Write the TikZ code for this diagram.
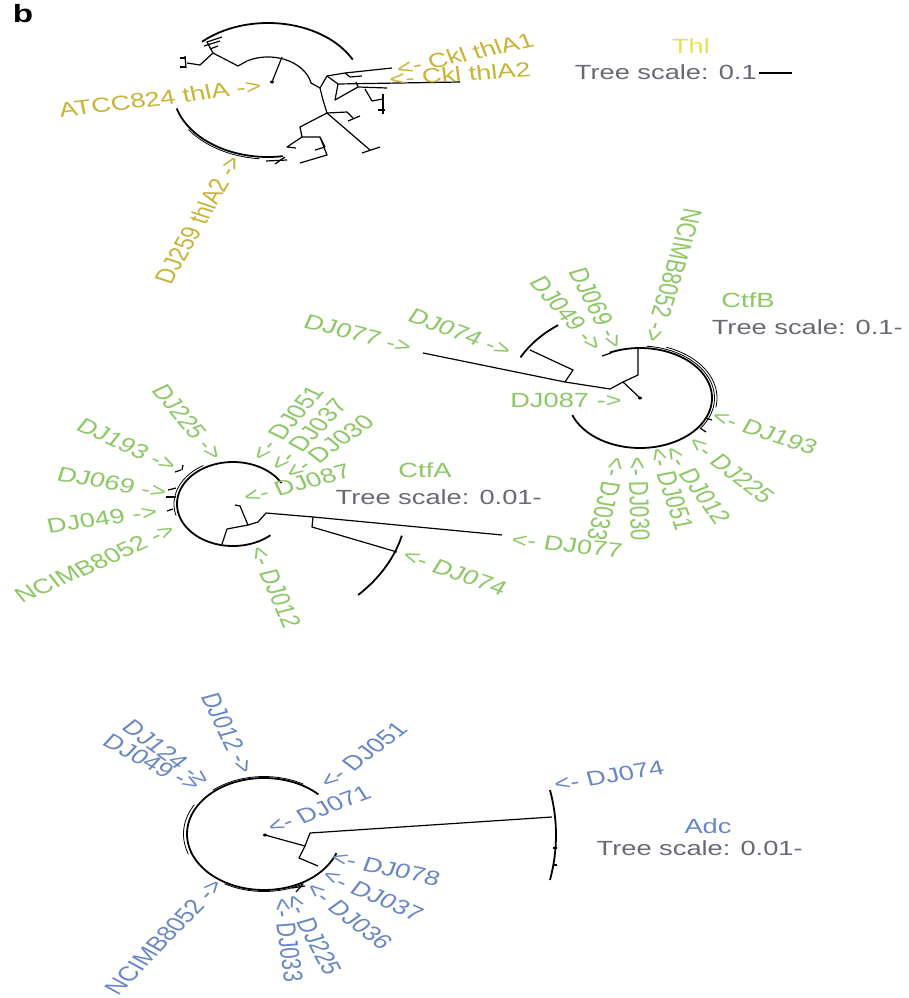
\documentclass[tikz,border=0pt]{standalone}
\usepackage{fontspec}
\setmainfont{Liberation Sans}
\newcommand\labfont{\fontsize{20.5}{24}\selectfont}
\definecolor{thly}{RGB}{200,180,55}
\definecolor{thlt}{RGB}{228,228,80}
\definecolor{ctfg}{RGB}{140,200,100}
\definecolor{adcb}{RGB}{105,135,200}
\definecolor{scg}{RGB}{105,105,115}
\tikzset{
  lab/.style={font=\labfont, inner sep=0pt, transform shape},
  tilt/.style={rotate={atan2(1.33*sin(#1),cos(#1))}},
  br/.style={line width=1.2pt, line join=round},
  rim/.style={line width=1.8pt},
  thin rim/.style={line width=0.8pt},
}
\begin{document}
\begin{tikzpicture}[x=0.75188pt, y=-1pt, xscale=1.33]
\fill[white] (0,0) rectangle (908,998);
\useasboundingbox (0,0) rectangle (908,998);

\node[lab, font=\fontsize{25}{28}\selectfont\bfseries] (panelb) at (23,14) {b};

% ================= Thl tree =================
\draw[rim] plot[domain=27:134,samples=60,smooth] ({268+95*cos(\x)},{90-67*sin(\x)});
\draw[rim] plot[domain=196:279,samples=40,smooth] ({268+95*cos(\x)},{90-67*sin(\x)});
\draw[thin rim] plot[domain=215:265,samples=30,smooth] ({268+97*cos(\x)},{90-69*sin(\x)});
\draw[br] plot[domain=12:118,samples=40,smooth] ({268+44*cos(\x)},{90-33*sin(\x)});
\fill (272,82) circle (1.5pt);
\draw[br] (272,82) -- (282,57);
\draw[br] (247,61) -- (238,66) -- (213,53);
\draw[br] (213,53) -- (207,42) -- (222,37);
\draw[br] (204,46) -- (220,41);
\draw[br] (210,49) -- (218,46);
\draw[br] (213,53) -- (200,65) -- (187,63);
\draw[br] (185,56) -- (186,68);
\draw[br] (180,58) -- (186,58);
\draw[br] (180,67) -- (186,67);
\draw[br] (311,83) -- (320,88) -- (327,76) -- (345,73) -- (392,68);
\draw[br] (327,76) -- (338,84) -- (460,82);
\draw[br] (345,73) -- (350,77) -- (362,76);
\draw[br] (338,84) -- (335,100) -- (358,87) -- (387,88);
\draw[br] (358,87) -- (356,82);
\draw[br] (365,89) -- (372,101) -- (383,99);
\draw[br] (383,94) -- (383,114);
\draw[br] (378,110) -- (385,110);
\draw[br] (320,88) -- (323,100) -- (327,113) -- (370,150);
\draw[br] (362,153) -- (380,147);
\draw[br] (327,113) -- (347,112) -- (353,118);
\draw[br] (348,121) -- (360,116);
\draw[br] (327,113) -- (300,127) -- (302,137) -- (320,137) -- (325,147);
\draw[br] (320,137) -- (327,155) -- (300,163);
\draw[br] (325,147) -- (315,150);
\draw[br] (302,137) -- (287,147) -- (296,148);
\draw[br] (266,161) -- (287,160);
\draw[br] (275,164) -- (285,157);

\node[lab,thly,tilt=7] (atcc) at (160,98) {ATCC824 thlA ->};
\node[lab,thly,tilt=60] (dj259) at (198,220) {DJ259 thlA2 ->};
\node[lab,thly,tilt=12.5] (ckl1) at (465,54) {<- Ckl thlA1};
\node[lab,thly,tilt=4] (ckl2) at (460,74) {<- Ckl thlA2};
\node[lab,thlt] (thl) at (691,46) {Thl};
\node[lab,scg,anchor=east] (ts1) at (757,72) {Tree scale: 0.1};
\draw[line width=2pt] (759,73) -- (792,73);

% ================= CtfB tree =================
\draw[rim] plot[domain=-160:115,samples=80,smooth] ({640+72*cos(\x)},{398-50*sin(\x)});
\draw[thin rim] plot[domain=-35:85,samples=40,smooth] ({640+74.5*cos(\x)},{398-52*sin(\x)});
\draw[thin rim] plot[domain=-10:70,samples=40,smooth] ({640+77*cos(\x)},{398-54*sin(\x)});
\draw[br] (423,353) -- (565,382) -- (610,389) -- (623,382) -- (638,375) -- (638,349);
\draw[br] (623,382) -- (640,398);
\fill (640,398) circle (1.5pt);
\draw[br] (565,382) -- (573,370) -- (530,350);
\draw[rim] plot[domain=128:154,samples=20,smooth] ({640+133*cos(\x)},{398-92.5*sin(\x)});
\draw[br] (602,356) -- (611,353);
\draw[br] (705,418) -- (712,420);
\draw[br] (700,428) -- (706,432);

\node[lab,ctfg,tilt=-107] (b8052) at (673,275) {NCIMB8052 ->};
\node[lab,ctfg,tilt=-62.5] (b069) at (597,308) {DJ069 ->};
\node[lab,ctfg,tilt=-48.6] (b049) at (567,314) {DJ049 ->};
\node[lab,ctfg,tilt=-20.7] (b074) at (460,333) {DJ074 ->};
\node[lab,ctfg,tilt=-14.3] (b077) at (358,334) {DJ077 ->};
\node[lab,ctfg] (b087) at (566,400) {DJ087 ->};
\node[lab,ctfg,tilt=-18] (b193) at (765,432) {<- DJ193};
\node[lab,ctfg,tilt=-38] (b225) at (731,470) {<- DJ225};
\node[lab,ctfg,tilt=-54] (b012) at (697,485) {<- DJ012};
\node[lab,ctfg,tilt=-71] (b051) at (671,489) {<- DJ051};
\node[lab,ctfg,tilt=-88] (b030) at (639,499) {<- DJ030};
\node[lab,ctfg,tilt=-105] (b033) at (607,499) {<- DJ033};
\node[lab,ctfg] (ctfb) at (748,300) {CtfB};
\node[lab,scg,anchor=east] (ts2) at (903,327) {Tree scale: 0.1-};

% ================= CtfA tree =================
\draw[rim] plot[domain=30:312,samples=80,smooth] ({233+56*cos(\x)},{504-42*sin(\x)});
\draw[thin rim] plot[domain=120:195,samples=30,smooth] ({233+59*cos(\x)},{504-44.5*sin(\x)});
\draw[br] (175,472) -- (181,470);
\draw[br] (168,490) -- (176,488);
\draw[br] (166,497) -- (176,497);
\draw[br] (167,511) -- (173,509);
\draw[br] (182,470) -- (183,465);
\draw[br] (235,505) -- (240,506) -- (248,525) -- (227,529) -- (222,544);
\draw[br] (248,525) -- (258,522) -- (266,513) -- (313,517) -- (502,535);
\draw[br] (313,517) -- (312,527) -- (397,552);
\draw[rim] plot[domain=-44:-14,samples=20,smooth] ({233+174*cos(\x)},{504-131*sin(\x)});

\node[lab,ctfg,tilt=-50.4] (a225) at (188,422) {DJ225 ->};
\node[lab,ctfg,tilt=-24.8] (a193) at (127,445) {DJ193 ->};
\node[lab,ctfg,tilt=-10.3] (a069) at (112,483) {DJ069 ->};
\node[lab,ctfg,tilt=7.8] (a049) at (102,519) {DJ049 ->};
\node[lab,ctfg,tilt=24] (a8052) at (95,563) {NCIMB8052 ->};
\node[lab,ctfg,tilt=-65.8] (a012) at (275,587) {<- DJ012};
\node[lab,ctfg,tilt=-19.4] (a074) at (455,572) {<- DJ074};
\node[lab,ctfg,tilt=-6] (a077) at (567,545) {<- DJ077};
\node[lab,ctfg,tilt=15] (a087) at (297,484) {<- DJ087};
\node[lab,ctfg,tilt=49.6] (a051) at (287,423) {<- DJ051};
\node[lab,ctfg,tilt=45.4] (a037) at (308,435) {<- DJ037};
\node[lab,ctfg,tilt=35.2] (a030) at (329,447) {<- DJ030};
\node[lab,ctfg] (ctfa) at (425,470) {CtfA};
\node[lab,scg,anchor=east] (ts3) at (542,497) {Tree scale: 0.01-};

% ================= Adc tree =================
\draw[rim] plot[domain=45:340,samples=80,smooth] ({264+77*cos(\x)},{834-56*sin(\x)});
\draw[thin rim] plot[domain=150:200,samples=30,smooth] ({264+80.5*cos(\x)},{834-58.5*sin(\x)});
\draw[thin rim] plot[domain=60:130,samples=30,smooth] ({264+79*cos(\x)},{834-57.5*sin(\x)});
\draw[thin rim] plot[domain=240:300,samples=30,smooth] ({264+79*cos(\x)},{834-57.5*sin(\x)});
\fill (265,835) circle (1.5pt);
\draw[br] (265,835) -- (305,846) -- (310,833) -- (552,817);
\draw[br] (305,846) -- (299,858) -- (318,866);
\draw[br] (292,888) -- (305,886);
\draw[br] (296,892) -- (303,884);
\draw[rim] (550,790) .. controls (558,820) and (558,850) .. (550,880);
\draw[br] (553,848) -- (557,848);
\draw[br] (553,865) -- (557,865);

\node[lab,adcb,tilt=-64.4] (c012) at (228,733) {DJ012 ->};
\node[lab,adcb,tilt=-36] (c124) at (167,753) {DJ124 ->};
\node[lab,adcb,tilt=-27.6] (c049) at (152,763) {DJ049 ->};
\node[lab,adcb,tilt=37] (c051) at (363,755) {<- DJ051};
\node[lab,adcb,tilt=20.3] (c071) at (319,810) {<- DJ071};
\node[lab,adcb,tilt=-12] (c078) at (386,868) {<- DJ078};
\node[lab,adcb,tilt=-23.7] (c037) at (373,895) {<- DJ037};
\node[lab,adcb,tilt=-38] (c036) at (349,916) {<- DJ036};
\node[lab,adcb,tilt=-62] (c225) at (313,935) {<- DJ225};
\node[lab,adcb,tilt=-82] (c033) at (288,940) {<- DJ033};
\node[lab,adcb,tilt=45.8] (c8052) at (164,937) {NCIMB8052 ->};
\node[lab,adcb,tilt=9] (c074) at (609,776) {<- DJ074};
\node[lab,adcb] (adc) at (708,826) {Adc};
\node[lab,scg,anchor=east] (ts4) at (803,848) {Tree scale: 0.01-};
\end{tikzpicture}
\end{document}
